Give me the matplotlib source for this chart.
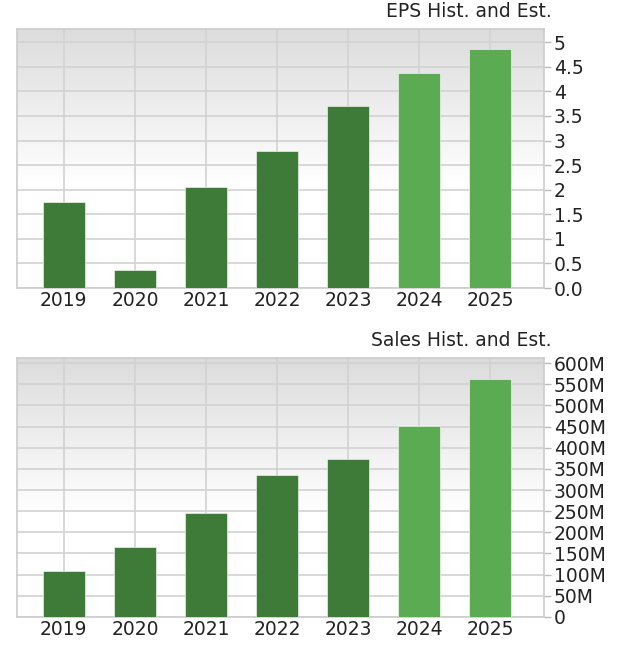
import matplotlib
matplotlib.use("Agg")
import matplotlib.pyplot as plt
import numpy as np
from matplotlib.colors import LinearSegmentedColormap
from matplotlib.ticker import FuncFormatter, MultipleLocator

years = ["2019", "2020", "2021", "2022", "2023", "2024", "2025"]
is_estimate = [False, False, False, False, False, True, True]
eps = [1.74, 0.36, 2.06, 2.78, 3.70, 4.37, 4.87]
sales_m = [108, 166, 246, 335, 374, 451, 563]

DARK = "#3e7b38"
LIGHT = "#5aab52"
GRID = "#d2d2d2"
TEXT = "#222222"

plt.rcParams["font.family"] = ["DejaVu Sans"]

bg_cmap = LinearSegmentedColormap.from_list(
    "bg", [(0.0, "#ffffff"), (0.4, "#ffffff"), (1.0, "#dcdcdc")])


def draw_panel(ax, values, title, ymax, step, fmt):
    x = np.arange(len(values))
    # gradient background, light grey at the top fading to white
    grad = np.linspace(0, 1, 256).reshape(-1, 1)
    ax.imshow(grad, cmap=bg_cmap, origin="lower", aspect="auto",
              extent=(0, 1, 0, 1), transform=ax.transAxes, zorder=0)
    colors = [LIGHT if e else DARK for e in is_estimate]
    ax.bar(x, values, width=0.59, color=colors, edgecolor="#ffffff",
           linewidth=0.4, zorder=3)
    ax.set_xlim(-0.66, len(values) - 1 + 0.76)
    ax.set_ylim(0, ymax)
    ax.yaxis.set_major_locator(MultipleLocator(step))
    ax.yaxis.set_major_formatter(FuncFormatter(fmt))
    ax.set_xticks(x)
    ax.set_xticklabels(years)
    ax.grid(True, color=GRID, linewidth=1.2, zorder=1)
    ax.set_axisbelow(True)
    ax.yaxis.tick_right()
    ax.tick_params(axis="y", length=5, width=1, color="#bbbbbb", pad=2,
                   labelsize=13.5, labelcolor=TEXT)
    ax.tick_params(axis="x", length=0, pad=2, labelsize=13.5, labelcolor=TEXT)
    for s in ax.spines.values():
        s.set_color("#cccccc")
        s.set_linewidth(1.2)
    ax.text(1.015, 1.03, title, transform=ax.transAxes, ha="right",
            va="bottom", fontsize=13.5, color=TEXT)


fig = plt.figure(figsize=(6.2, 6.5), dpi=100)
ax1 = fig.add_axes([0.0274, 0.5569, 0.85, 0.3985])
ax2 = fig.add_axes([0.0274, 0.0508, 0.85, 0.3985])

draw_panel(ax1, eps, "EPS Hist. and Est.", 5.27, 0.5,
           lambda v, p: "0.0" if v == 0 else f"{v:g}")
draw_panel(ax2, sales_m, "Sales Hist. and Est.", 612, 50,
           lambda v, p: "0" if v == 0 else f"{v:g}M")

fig.savefig("out.png", dpi=100)
